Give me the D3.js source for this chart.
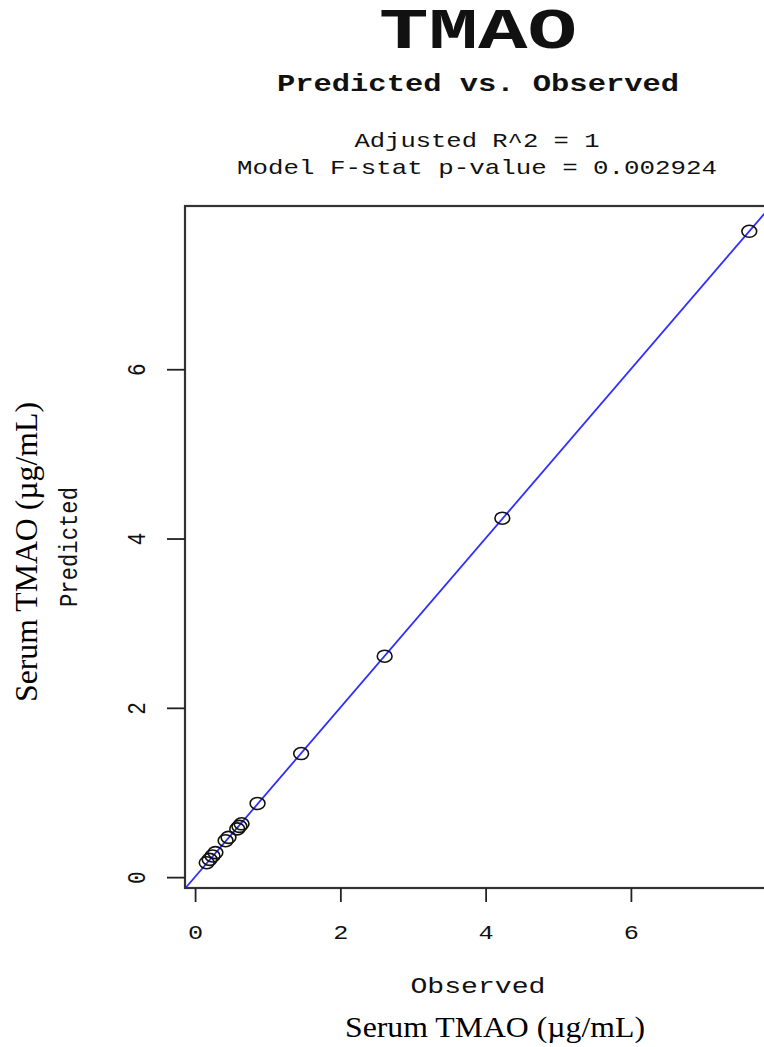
<!DOCTYPE html>
<html>
<head>
<meta charset="utf-8">
<script src="https://cdn.jsdelivr.net/npm/d3@7"></script>
<style>
  html, body { margin: 0; padding: 0; background: #fff; }
  svg { display: block; }
  .mono { font-family: "Liberation Mono", "Courier New", monospace; fill: #111; }
  .serif { font-family: "Liberation Serif", "Times New Roman", serif; fill: #000; }
</style>
</head>
<body>
<script>
// Serum TMAO (µg/mL): observed values and model predictions
const observed  = [0.16, 0.20, 0.24, 0.28, 0.42, 0.46, 0.58, 0.61, 0.64, 0.86, 1.46, 2.61, 4.23, 7.63];
const predicted = [0.17, 0.21, 0.25, 0.29, 0.43, 0.47, 0.57, 0.60, 0.63, 0.87, 1.46, 2.61, 4.24, 7.63];
const xTicks = [0, 2, 4, 6];
const yTicks = [0, 2, 4, 6];
const titleText = "TMAO";
const subtitleText = "Predicted vs. Observed";
const statLines = ["Adjusted R^2 = 1", "Model F-stat p-value = 0.002924"];
const xLabel = "Observed";
const yLabel = "Predicted";
const unitLabel = "Serum TMAO (µg/mL)";

const W = 764, H = 1047;
const plot = { left: 185, right: 771, top: 206, bottom: 888 };
const stretch = 1.2; // horizontal stretch of the exported graphic

// R-style axis range: data range padded by 4% on each side
function padded(v) {
  const [lo, hi] = d3.extent(v);
  const p = (hi - lo) * 0.04;
  return [lo - p, hi + p];
}

const x = d3.scaleLinear().domain(padded(observed)).range([plot.left, plot.right]);
const y = d3.scaleLinear().domain(padded(predicted)).range([plot.bottom, plot.top]);

const svg = d3.select("body").append("svg")
  .attr("width", W).attr("height", H);

// titles
function monoText(txt, cx, baseline, size, len, weight) {
  svg.append("text").attr("class", "mono")
    .attr("x", cx).attr("y", baseline)
    .attr("text-anchor", "middle")
    .attr("font-size", size)
    .attr("font-weight", weight || "normal")
    .attr("textLength", len).attr("lengthAdjust", "spacingAndGlyphs")
    .text(txt);
}
monoText(titleText, 478, 48, 58, 198, "bold");
monoText(subtitleText, 478, 91, 23, 402, "bold");
monoText(statLines[0], 477, 147, 21, 245);
monoText(statLines[1], 477, 174, 21, 480);

// clip region for the plotting area
svg.append("clipPath").attr("id", "plotclip")
  .append("rect")
  .attr("x", plot.left).attr("y", plot.top)
  .attr("width", plot.right - plot.left).attr("height", plot.bottom - plot.top);

// least-squares fit of predicted on observed
const mx = d3.mean(observed), my = d3.mean(predicted);
const sxy = d3.sum(observed, (o, i) => (o - mx) * (predicted[i] - my));
const sxx = d3.sum(observed, o => (o - mx) * (o - mx));
const slope = sxy / sxx, intercept = my - slope * mx;
const [x0, x1] = x.domain();
const ext = 1;
svg.append("line")
  .attr("clip-path", "url(#plotclip)")
  .attr("x1", x(x0 - ext)).attr("y1", y(intercept + slope * (x0 - ext)))
  .attr("x2", x(x1 + ext)).attr("y2", y(intercept + slope * (x1 + ext)))
  .attr("stroke", "#2f2fff").attr("stroke-width", 1.8);

// points (open circles)
svg.append("g").selectAll("ellipse")
  .data(observed.map((o, i) => [o, predicted[i]]))
  .join("ellipse")
  .attr("cx", d => x(d[0])).attr("cy", d => y(d[1]))
  .attr("rx", 7.4).attr("ry", 6)
  .attr("fill", "none").attr("stroke", "#111").attr("stroke-width", 1.6);

// box around the plotting area
svg.append("rect")
  .attr("x", plot.left).attr("y", plot.top)
  .attr("width", plot.right - plot.left).attr("height", plot.bottom - plot.top)
  .attr("fill", "none").attr("stroke", "#333").attr("stroke-width", 2.2);

// x axis (bottom)
const xAxis = svg.append("g").attr("transform", `translate(0,${plot.bottom})`)
  .call(d3.axisBottom(x).tickValues(xTicks).tickSize(14).tickFormat(d3.format("d")));
xAxis.select(".domain").remove();
xAxis.selectAll(".tick line").attr("stroke", "#222").attr("stroke-width", 1.8);
xAxis.selectAll(".tick text")
  .attr("class", "mono").attr("font-size", 21)
  .attr("x", 0).attr("y", 51).attr("dy", null)
  .attr("transform", `scale(${stretch},1)`);

// y axis (left)
const yAxis = svg.append("g").attr("transform", `translate(${plot.left},0)`)
  .call(d3.axisLeft(y).tickValues(yTicks).tickSize(18).tickFormat(d3.format("d")));
yAxis.select(".domain").remove();
yAxis.selectAll(".tick line").attr("stroke", "#222").attr("stroke-width", 1.8);
yAxis.selectAll(".tick text")
  .attr("class", "mono").attr("font-size", 21)
  .attr("x", null).attr("dy", null)
  .attr("text-anchor", "middle")
  .attr("transform", `translate(-40,0) scale(${stretch},1) rotate(-90)`);

// axis titles
svg.append("text").attr("class", "mono")
  .attr("text-anchor", "middle").attr("font-size", 22)
  .attr("transform", "translate(478,993)")
  .attr("textLength", 135).attr("lengthAdjust", "spacingAndGlyphs")
  .text(xLabel);
svg.append("text").attr("class", "mono")
  .attr("text-anchor", "middle").attr("font-size", 22)
  .attr("transform", `translate(77,547) scale(${stretch},1) rotate(-90)`)
  .attr("textLength", 120).attr("lengthAdjust", "spacingAndGlyphs")
  .text(yLabel);

// unit labels
svg.append("text").attr("class", "serif")
  .attr("text-anchor", "middle").attr("font-size", 30)
  .attr("x", 495).attr("y", 1037)
  .attr("textLength", 300).attr("lengthAdjust", "spacingAndGlyphs")
  .text(unitLabel);
svg.append("text").attr("class", "serif")
  .attr("text-anchor", "middle").attr("font-size", 31)
  .attr("transform", "translate(37,552) rotate(-90)")
  .attr("textLength", 300).attr("lengthAdjust", "spacingAndGlyphs")
  .text(unitLabel);
</script>
</body>
</html>
